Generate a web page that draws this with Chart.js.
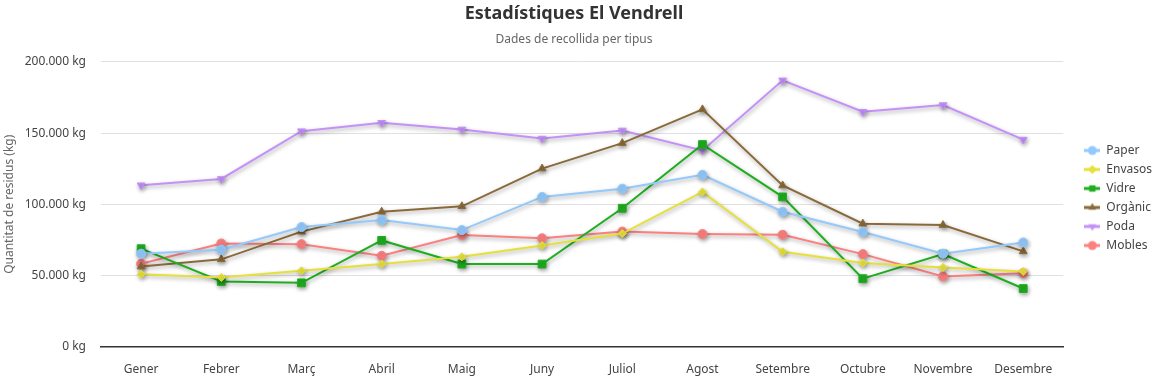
<!DOCTYPE html>
<html>
<head>
<meta charset="utf-8">
<script src="https://cdn.jsdelivr.net/npm/chart.js@4"></script>
<style>
html,body{margin:0;padding:0;background:#fff;overflow:hidden;}
#wrap{width:1157px;height:378px;position:relative;}
</style>
</head>
<body>
<div id="wrap"><canvas id="c"></canvas></div>
<script>
const months = ['Gener','Febrer','Març','Abril','Maig','Juny','Juliol','Agost','Setembre','Octubre','Novembre','Desembre'];
const paper   = [65300, 68100, 84000, 88900, 81900, 105200, 111000, 120700, 94800, 80500, 65300, 73200];
const envasos = [50900, 48600, 53300, 58000, 63100, 71100, 79400, 108700, 66700, 58700, 55600, 52800];
const vidre   = [68800, 45800, 44800, 74600, 58000, 58000, 97200, 142000, 105200, 47700, 65000, 40800];
const organic = [56300, 61300, 80800, 94800, 98600, 125100, 143000, 166700, 113200, 86400, 85400, 66900];
const poda    = [113400, 117800, 151400, 157300, 152600, 146200, 151900, 137800, 187100, 165000, 169700, 145500];
const mobles  = [58200, 72500, 72000, 63800, 78400, 76100, 80800, 79100, 78600, 65000, 49300, 51600];
const yTicks = [0, 50000, 100000, 150000, 200000];

const FONT = "'Noto Sans', 'Open Sans', sans-serif";

const series = [
  {label:'Paper',   data:paper,   color:'#93c9fb', style:'circle',   r:4.5},
  {label:'Envasos', data:envasos, color:'#e6e03a', style:'rectRot',  r:4},
  {label:'Vidre',   data:vidre,   color:'#1fae1f', style:'rect',     r:5.5},
  {label:'Orgànic', data:organic, color:'#8a6a3a', style:'triangle', r:4.5},
  {label:'Poda',    data:poda,    color:'#c490fa', style:'triangle', r:4.5, rot:180},
  {label:'Mobles',  data:mobles,  color:'#fb8080', style:'circle',   r:4.5}
];

function legendIcon(s){
  const cv = document.createElement('canvas');
  cv.width = 16; cv.height = 12;
  const x = cv.getContext('2d');
  x.strokeStyle = s.color; x.lineWidth = 3;
  x.beginPath(); x.moveTo(0,6); x.lineTo(16,6); x.stroke();
  x.fillStyle = s.color;
  Chart.helpers.drawPoint(x, {pointStyle:s.style, radius:4.5, rotation:s.rot||0, borderWidth:0}, 8, 6);
  return cv;
}

const fmt = v => v.toLocaleString('de-DE') + ' kg';

const shadowPlugin = {
  id:'shadow',
  beforeDatasetsDraw(chart){
    const ctx = chart.ctx;
    ctx.save();
    ctx.shadowColor = 'rgba(0,0,0,0.35)';
    ctx.shadowBlur = 4;
    ctx.shadowOffsetX = 1;
    ctx.shadowOffsetY = 2;
  },
  afterDatasetsDraw(chart){ chart.ctx.restore(); }
};
const legendShift = {
  id:'legendShift',
  afterLayout(chart){
    const lg = chart.legend;
    if (lg) { lg.left += 14; lg.right = chart.width; lg.width = lg.right - lg.left; }
  }
};

new Chart(document.getElementById('c'), {
  type:'line',
  data:{
    labels: months,
    datasets: series.map(s => ({
      label:s.label, data:s.data,
      borderColor:s.color, backgroundColor:s.color,
      pointBackgroundColor:s.color, pointBorderColor:s.color, pointBorderWidth:1,
      pointStyle:s.style, pointRotation:s.rot||0,
      pointRadius:s.r, pointHoverRadius:s.r+1,
      borderWidth:2, tension:0, fill:false
    }))
  },
  options:{
    responsive:true, maintainAspectRatio:false, animation:false,
    layout:{padding:{left:0,right:9,top:3,bottom:-15}},
    plugins:{
      title:{display:true, text:'Estadístiques El Vendrell', color:'#333',
        font:{family:FONT, size:18, weight:'bold'}, padding:{top:0,bottom:8}},
      subtitle:{display:true, text:'Dades de recollida per tipus', color:'#666',
        font:{family:FONT, size:12}, padding:{top:0,bottom:15}},
      legend:{position:'right', align:'center',
        labels:{color:'#444', font:{family:FONT, size:12}, usePointStyle:true, pointStyleWidth:16, padding:7,
          generateLabels(chart){
            return series.map((s,i)=>({text:s.label, pointStyle:legendIcon(s), fillStyle:s.color,
              strokeStyle:s.color, lineWidth:0, hidden:!chart.isDatasetVisible(i), datasetIndex:i, fontColor:'#444'}));
          }}},
      tooltip:{enabled:false}
    },
    scales:{
      x:{offset:true, grid:{display:false, drawTicks:false}, border:{display:true, color:'#333', width:1.5},
        ticks:{color:'#444', font:{family:FONT, size:12}, padding:16}},
      y:{min:0, max:200000,
        afterBuildTicks(ax){ ax.ticks = yTicks.map(v=>({value:v})); },
        afterFit(ax){ ax.width = 101; },
        grid:{color:'#e0e0e0', drawTicks:false}, border:{display:false},
        ticks:{color:'#444', font:{family:FONT, size:12}, padding:15, callback:v=>fmt(v)},
        title:{display:true, text:'Quantitat de residus (kg)', color:'#666', font:{family:FONT, size:12}, padding:{top:2,bottom:0}}}
    }
  },
  plugins:[shadowPlugin, legendShift]
});
</script>
</body>
</html>
